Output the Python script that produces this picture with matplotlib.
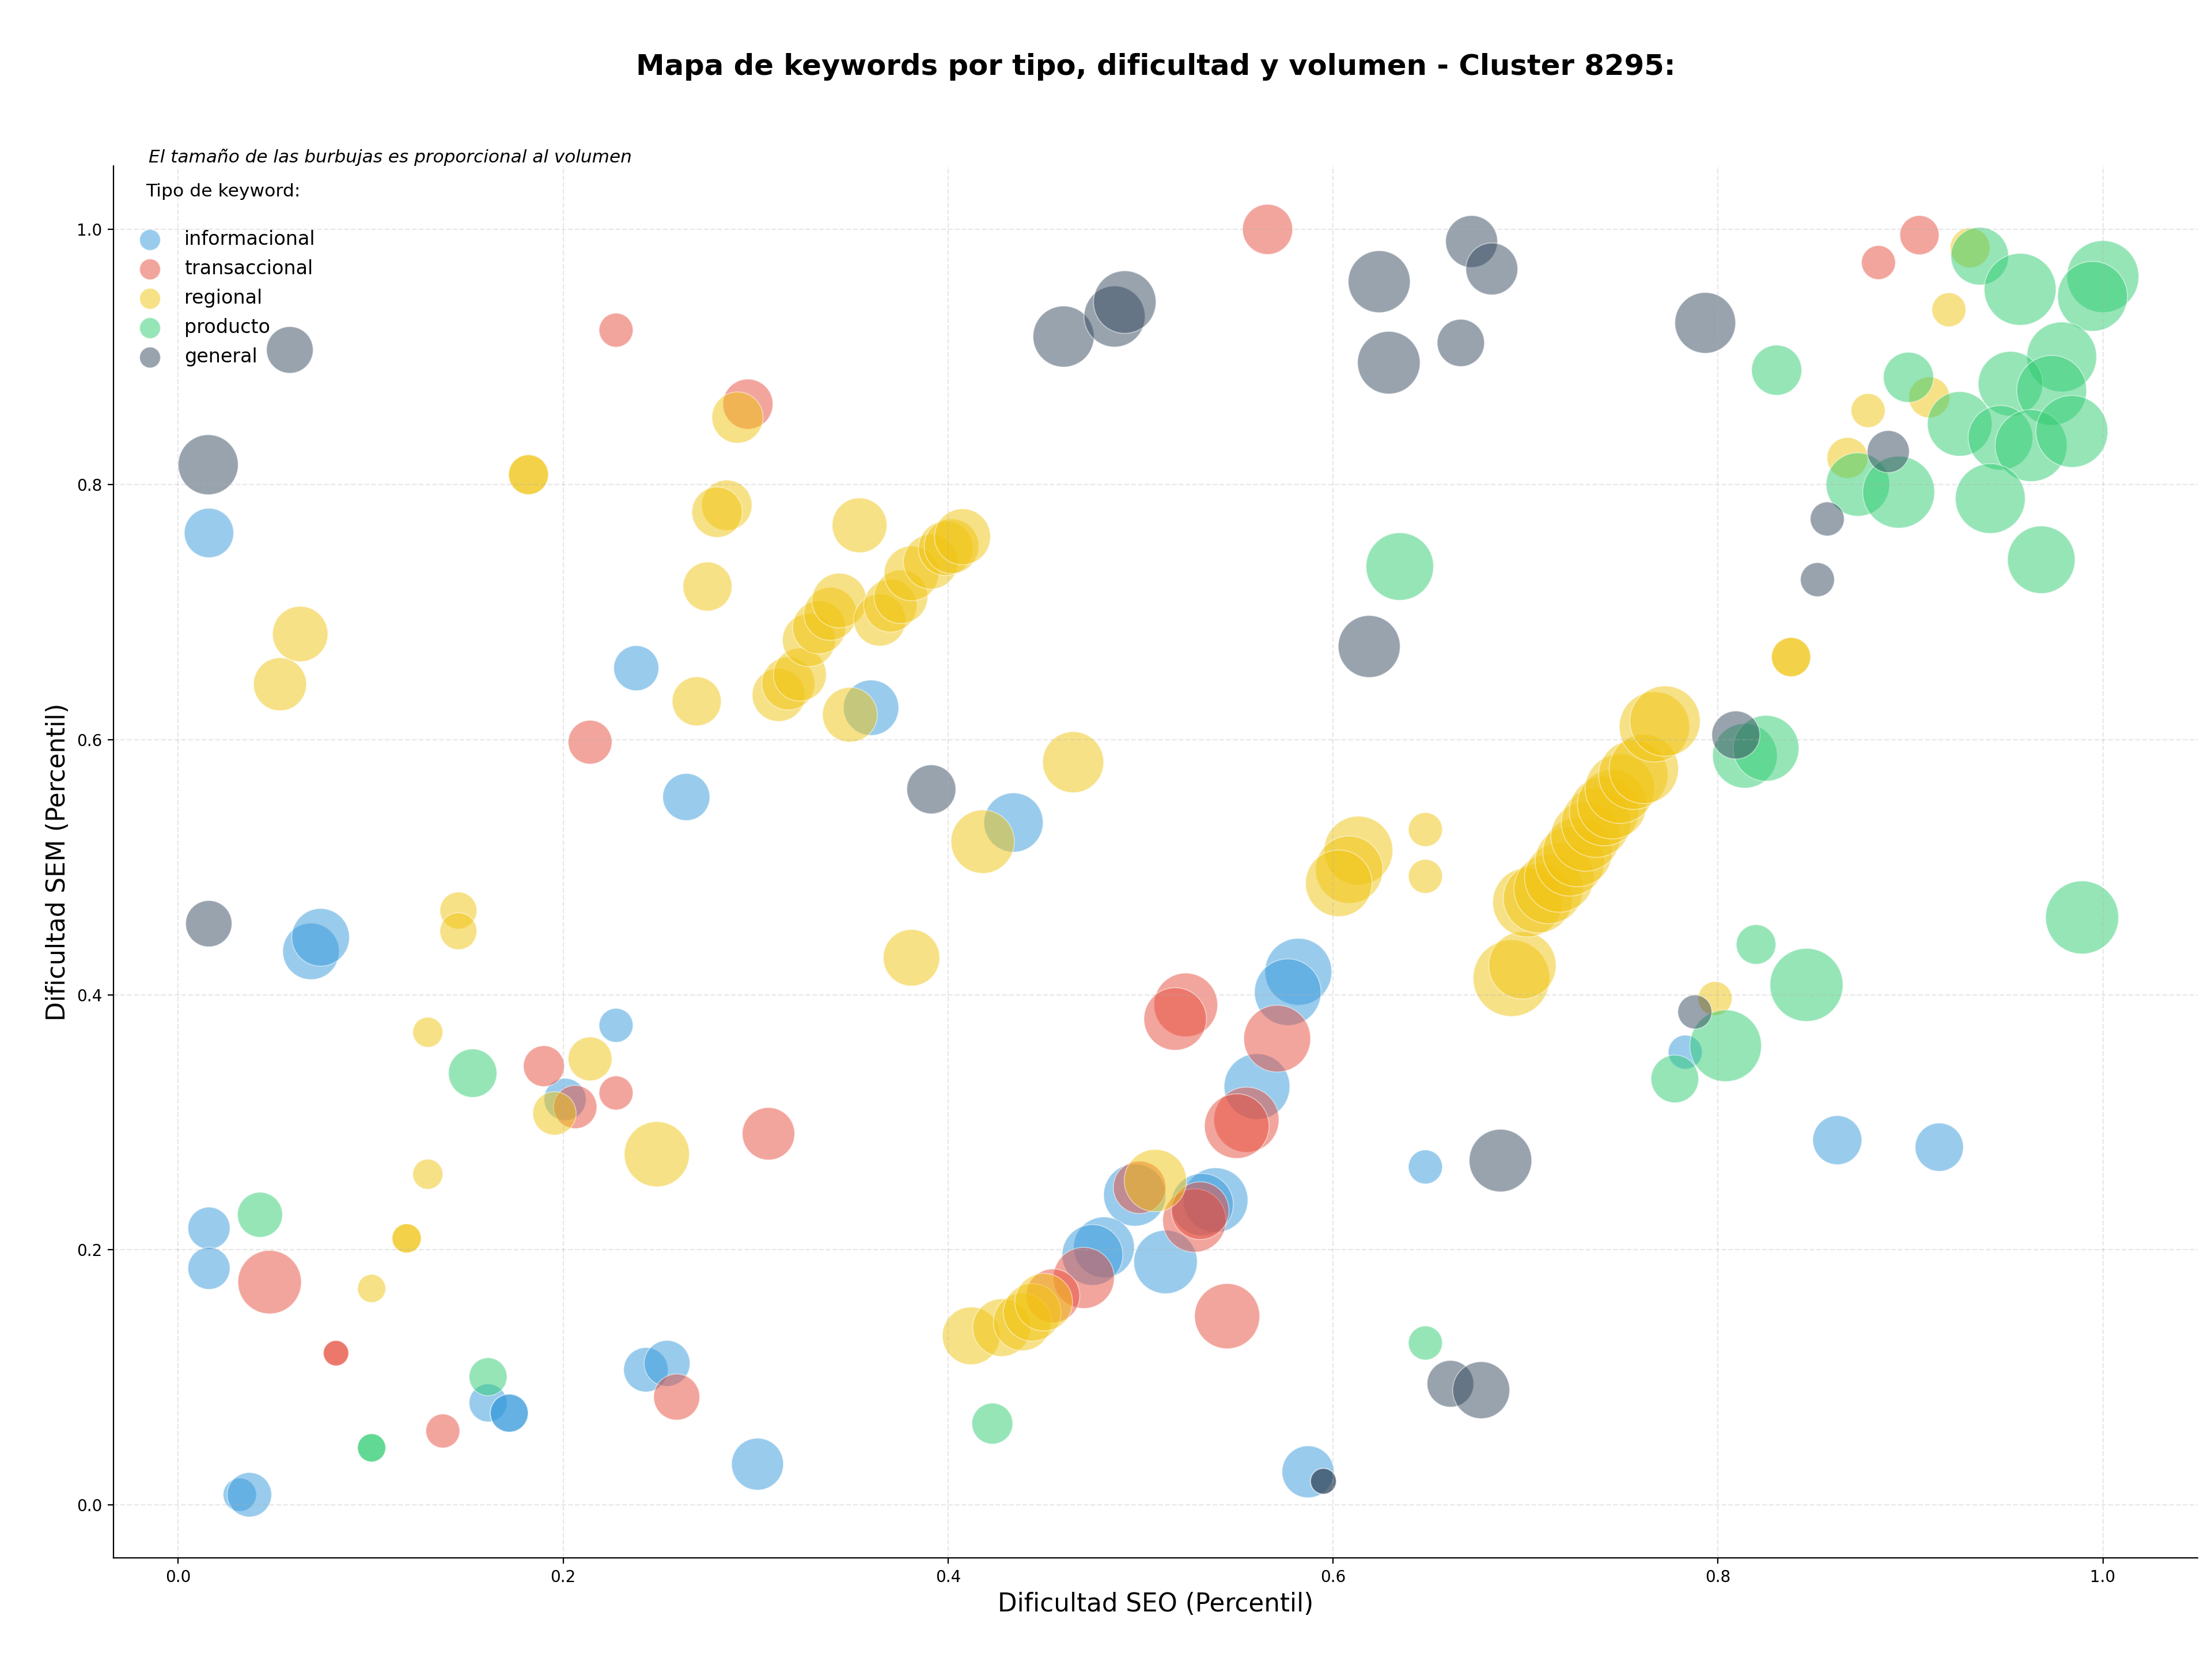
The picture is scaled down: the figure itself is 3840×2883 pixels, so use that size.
import numpy as np
import matplotlib
matplotlib.use('Agg')
import matplotlib.pyplot as plt

# --- datos (dificultad SEO, dificultad SEM, volumen) por tipo de keyword ---
tipos = ['informacional', 'transaccional', 'regional', 'producto', 'general']
colores = ['#3498db', '#e74c3c', '#f1c40f', '#2ecc71', '#34495e']

seo_info = [0.016, 0.238, 0.264, 0.360, 0.434, 0.069, 0.074, 0.2275, 0.201, 0.016,
            0.016, 0.243, 0.254, 0.161, 0.172, 0.172, 0.301, 0.032, 0.037, 0.582,
            0.5765, 0.5605, 0.497, 0.539, 0.532, 0.513, 0.481, 0.475, 0.648, 0.587,
            0.783, 0.862, 0.915]
sem_info = [0.762, 0.656, 0.555, 0.625, 0.535, 0.434, 0.445, 0.376, 0.318, 0.217,
            0.1855, 0.106, 0.111, 0.080, 0.072, 0.072, 0.032, 0.008, 0.008, 0.418,
            0.402, 0.328, 0.243, 0.239, 0.2355, 0.1905, 0.202, 0.196, 0.265, 0.026,
            0.355, 0.286, 0.2805]
vol_info = [660, 550, 600, 830, 950, 865, 900, 313, 480, 480,
            480, 535, 570, 390, 390, 390, 730, 300, 535, 1210,
            1200, 1170, 1050, 1130, 1050, 1090, 1000, 1000, 313, 730,
            313, 650, 630]

seo_trans = [0.2275, 0.296, 0.214, 0.566, 0.9047, 0.8834, 0.190, 0.2063, 0.2275, 0.3067,
             0.0475, 0.082, 0.082, 0.1375, 0.259, 0.5235, 0.518, 0.571, 0.555, 0.550,
             0.4995, 0.528, 0.531, 0.545, 0.4705, 0.4545]
sem_trans = [0.921, 0.863, 0.598, 1.0, 0.9955, 0.974, 0.344, 0.312, 0.323, 0.291,
             0.1747, 0.119, 0.119, 0.058, 0.0846, 0.392, 0.381, 0.3656, 0.302, 0.297,
             0.249, 0.223, 0.2307, 0.148, 0.178, 0.164]
vol_trans = [313, 680, 520, 680, 416, 313, 454, 506, 313, 745,
             1090, 174, 174, 313, 575, 1100, 1060, 1210, 1150, 1130,
             745, 1090, 900, 1150, 1010, 780]

seo_reg = [0.182, 0.182, 0.2906, 0.285, 0.280, 0.275, 0.2694, 0.0634, 0.0529,
           0.354, 0.312, 0.317, 0.323, 0.3277, 0.333, 0.3388, 0.3435, 0.3645, 0.370,
           0.3755, 0.381, 0.391, 0.3988, 0.4018, 0.4075, 0.349,
           0.465, 0.418, 0.381, 0.648, 0.648,
           0.6132, 0.6084, 0.603, 0.6927, 0.6984, 0.701, 0.7065, 0.712, 0.7175, 0.723,
           0.727, 0.7312, 0.7366, 0.7408, 0.745, 0.749, 0.756, 0.7615, 0.767, 0.7725,
           0.931, 0.920, 0.878, 0.9098, 0.8673, 0.838, 0.838, 0.7985,
           0.1456, 0.1456, 0.1297, 0.214, 0.1955, 0.2487, 0.1297, 0.1187, 0.1187, 0.1005,
           0.412, 0.4278, 0.4386, 0.4437, 0.4497, 0.5077]
sem_reg = [0.8077, 0.8077, 0.8525, 0.7837, 0.7783, 0.720, 0.630, 0.6828, 0.6434,
           0.768, 0.635, 0.644, 0.651, 0.678, 0.688, 0.6986, 0.709, 0.6937, 0.705,
           0.712, 0.7303, 0.7394, 0.750, 0.7516, 0.759, 0.6195,
           0.5823, 0.520, 0.429, 0.5295, 0.4928,
           0.513, 0.498, 0.4874, 0.413, 0.423, 0.4724, 0.4756, 0.4828, 0.4918, 0.5045,
           0.5118, 0.524, 0.5348, 0.5439, 0.5493, 0.5615, 0.5724, 0.577, 0.610, 0.6145,
           0.9855, 0.937, 0.858, 0.8683, 0.8208, 0.6647, 0.6647, 0.397,
           0.466, 0.4498, 0.3706, 0.3497, 0.307, 0.275, 0.2593, 0.209, 0.209, 0.1697,
           0.1326, 0.139, 0.1435, 0.151, 0.159, 0.2543]
vol_reg = [430, 430, 710, 690, 690, 650, 650, 830, 760,
           812, 760, 760, 760, 760, 760, 760, 810, 730, 760,
           780, 810, 810, 810, 810, 850, 812,
           1010, 1090, 865, 313, 313,
           1280, 1230, 1200, 1590, 1230, 1300, 1300, 1300, 1300, 1300,
           1300, 1300, 1300, 1300, 1300, 1300, 1300, 1300, 1340, 1340,
           430, 313, 313, 454, 454, 416, 416, 313,
           370, 370, 245, 520, 510, 1150, 245, 230, 230, 215,
           900, 900, 900, 900, 900, 1050]

seo_prod = [0.0425, 0.153, 0.161, 0.1005, 0.1005, 0.423, 0.648, 0.6347, 0.8198, 0.846,
            0.804, 0.7776, 0.9892, 0.8305, 0.814, 0.825, 0.8727, 0.8939, 0.899, 0.9256,
            0.936, 0.957, 1.0, 0.9946, 0.9786, 0.952, 0.9734, 0.9468, 0.9627, 0.9839,
            0.9415, 0.968]
sem_prod = [0.2275, 0.3385, 0.1005, 0.0448, 0.0448, 0.0638, 0.127, 0.7357, 0.4394, 0.4077,
            0.360, 0.334, 0.4606, 0.8896, 0.5873, 0.5932, 0.800, 0.794, 0.884, 0.8475,
            0.979, 0.953, 0.963, 0.9475, 0.900, 0.879, 0.8738, 0.8366, 0.8305, 0.8416,
            0.789, 0.741]
vol_prod = [550, 635, 390, 215, 215, 454, 313, 1235, 425, 1445,
            1390, 615, 1445, 680, 1130, 1170, 1090, 1400, 680, 1130,
            900, 1400, 1400, 1320, 1320, 1130, 1320, 1130, 1400, 1400,
            1320, 1235]

seo_gen = [0.058, 0.0156, 0.0159, 0.460, 0.4865, 0.4918, 0.624, 0.629, 0.6664, 0.672,
           0.6825, 0.6188, 0.3913, 0.7934, 0.8885, 0.8568, 0.8517, 0.8093, 0.595, 0.595,
           0.661, 0.677, 0.687, 0.788]
sem_gen = [0.9055, 0.8155, 0.4557, 0.916, 0.9317, 0.943, 0.959, 0.8955, 0.911, 0.9905,
           0.969, 0.673, 0.561, 0.9267, 0.8258, 0.773, 0.7254, 0.6036, 0.0186, 0.0186,
           0.095, 0.090, 0.270, 0.3865]
vol_gen = [590, 975, 580, 1010, 1010, 1060, 1040, 1060, 605, 730,
           730, 1040, 650, 1000, 480, 313, 313, 625, 180, 180,
           590, 880, 1060, 313]

seo = [seo_info, seo_trans, seo_reg, seo_prod, seo_gen]
sem = [sem_info, sem_trans, sem_reg, sem_prod, sem_gen]
vol = [vol_info, vol_trans, vol_reg, vol_prod, vol_gen]

escala = 1.44  # volumen -> area de la burbuja

fig, ax = plt.subplots(figsize=(19.2, 14.415))
fig.subplots_adjust(left=0.0513, right=0.9935, bottom=0.062, top=0.9)

for tipo, color, xs, ys, vs in zip(tipos, colores, seo, sem, vol):
    ax.scatter(xs, ys, s=np.array(vs) * escala, c=color, alpha=0.5,
               edgecolors='white', linewidths=0.6, label=tipo)

ax.set_xlabel('Dificultad SEO (Percentil)', fontsize=15.7)
ax.set_ylabel('Dificultad SEM (Percentil)', fontsize=15.7)
ax.set_title('Mapa de keywords por tipo, dificultad y volumen - Cluster 8295:',
             fontsize=17.9, fontweight='bold', pad=57)
ax.grid(True, linestyle='--', alpha=0.3)
ax.spines['top'].set_visible(False)
ax.spines['right'].set_visible(False)

ax.text(0.017, 1.0, 'El tamaño de las burbujas es proporcional al volumen',
        transform=ax.transAxes, fontsize=11.2, style='italic', va='bottom')

leg = ax.legend(loc='upper left', frameon=False, fontsize=12, labelspacing=0.54,
                title='Tipo de keyword:\n', title_fontsize=11.3)
for h in leg.legend_handles:
    h.set_sizes([170])

fig.savefig('out.png', dpi=200)
